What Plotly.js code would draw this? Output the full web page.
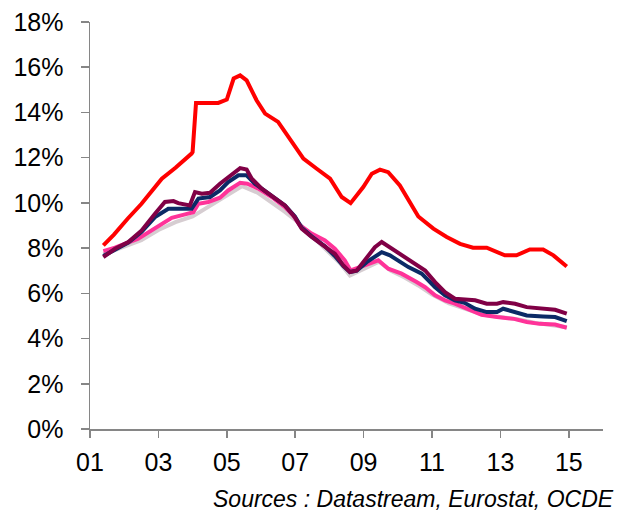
<!DOCTYPE html>
<html>
<head>
<meta charset="utf-8">
<script src="https://cdn.plot.ly/plotly-3.0.1.min.js"></script>
<style>
  html, body { margin: 0; padding: 0; background: #ffffff; }
  #chart { width: 632px; height: 512px; }
</style>
</head>
<body>
<div id="chart"></div>
<script>
// Tick labels
const xTickVals = [2001, 2003, 2005, 2007, 2009, 2011, 2013, 2015];
const xTickText = ["01", "03", "05", "07", "09", "11", "13", "15"];
const yTickVals = [0, 2, 4, 6, 8, 10, 12, 14, 16, 18];
const yTickText = ["0%", "2%", "4%", "6%", "8%", "10%", "12%", "14%", "16%", "18%"];

// Red series (decimal years, %)
const redX = [2001.39, 2001.7, 2002.1, 2002.5, 2003.1, 2003.5, 2003.97, 2004.0, 2004.1, 2004.75, 2005.0, 2005.09, 2005.2, 2005.39, 2005.58, 2005.87, 2006.12, 2006.5, 2006.85, 2007.24, 2007.63, 2008.02, 2008.36, 2008.62, 2008.99, 2009.24, 2009.48, 2009.72, 2010.06, 2010.36, 2010.6, 2011.04, 2011.43, 2011.82, 2012.2, 2012.6, 2012.89, 2013.13, 2013.47, 2013.86, 2014.25, 2014.55, 2014.94];
const redY = [8.12, 8.6, 9.3, 9.95, 11.07, 11.55, 12.18, 12.25, 14.42, 14.42, 14.57, 14.98, 15.5, 15.64, 15.42, 14.54, 13.95, 13.58, 12.84, 11.96, 11.51, 11.07, 10.26, 9.99, 10.7, 11.29, 11.47, 11.36, 10.77, 10.04, 9.4, 8.86, 8.49, 8.19, 8.02, 8.02, 7.82, 7.68, 7.68, 7.94, 7.94, 7.68, 7.19];

// Maroon series
const maroonX = [2001.39, 2001.73, 2002.12, 2002.51, 2002.9, 2003.19, 2003.44, 2003.58, 2003.92, 2004.07, 2004.27, 2004.51, 2004.8, 2005.04, 2005.39, 2005.58, 2005.73, 2006.02, 2006.31, 2006.7, 2006.99, 2007.19, 2007.48, 2007.87, 2008.16, 2008.41, 2008.6, 2008.8, 2009.09, 2009.33, 2009.53, 2009.77, 2010.11, 2010.5, 2010.8, 2011.09, 2011.38, 2011.67, 2011.95, 2012.26, 2012.6, 2012.9, 2013.08, 2013.43, 2013.77, 2014.25, 2014.6, 2014.94];
const maroonY = [7.6, 7.97, 8.27, 8.78, 9.52, 10.04, 10.08, 9.99, 9.89, 10.48, 10.41, 10.45, 10.85, 11.14, 11.54, 11.48, 11.07, 10.63, 10.33, 9.89, 9.37, 8.86, 8.49, 8.04, 7.75, 7.23, 6.94, 7.01, 7.6, 8.04, 8.27, 8.04, 7.68, 7.31, 7.01, 6.5, 6.05, 5.76, 5.72, 5.69, 5.54, 5.54, 5.61, 5.54, 5.39, 5.32, 5.27, 5.1];

// Navy series
const navyX = [2001.39, 2001.73, 2002.12, 2002.51, 2002.9, 2003.29, 2003.97, 2004.17, 2004.51, 2004.8, 2005.04, 2005.34, 2005.58, 2005.82, 2006.02, 2006.31, 2006.7, 2006.99, 2007.19, 2007.48, 2007.87, 2008.16, 2008.41, 2008.6, 2008.8, 2009.09, 2009.53, 2009.77, 2010.31, 2010.7, 2011.09, 2011.38, 2011.67, 2011.95, 2012.26, 2012.6, 2012.9, 2013.08, 2013.43, 2013.77, 2014.25, 2014.6, 2014.94];
const navyY = [7.65, 7.95, 8.25, 8.72, 9.37, 9.74, 9.74, 10.19, 10.26, 10.55, 10.92, 11.22, 11.22, 10.85, 10.63, 10.33, 9.89, 9.4, 8.9, 8.52, 8.08, 7.65, 7.2, 6.94, 7.0, 7.38, 7.82, 7.68, 7.16, 6.87, 6.27, 5.91, 5.69, 5.58, 5.32, 5.17, 5.17, 5.32, 5.17, 5.02, 4.98, 4.95, 4.77];

// Pink series
const pinkX = [2001.39, 2001.73, 2002.41, 2003.0, 2003.39, 2003.78, 2004.02, 2004.17, 2004.46, 2004.8, 2005.04, 2005.39, 2005.6, 2005.92, 2006.31, 2006.7, 2006.94, 2007.14, 2007.48, 2007.87, 2008.16, 2008.45, 2008.62, 2008.89, 2009.14, 2009.43, 2009.72, 2010.11, 2010.55, 2010.8, 2011.09, 2011.38, 2011.67, 2012.0, 2012.45, 2012.9, 2013.4, 2013.77, 2014.15, 2014.6, 2014.94];
const pinkY = [7.87, 8.02, 8.42, 9.0, 9.34, 9.49, 9.59, 9.96, 10.04, 10.23, 10.55, 10.89, 10.85, 10.63, 10.26, 9.81, 9.45, 9.0, 8.64, 8.34, 7.97, 7.46, 7.01, 7.16, 7.31, 7.46, 7.09, 6.87, 6.5, 6.27, 5.91, 5.69, 5.54, 5.32, 5.05, 4.95, 4.87, 4.73, 4.65, 4.62, 4.48];

// Light grey series
const greyX = [2001.39, 2002.0, 2002.5, 2003.0, 2003.5, 2004.0, 2004.5, 2005.0, 2005.45, 2005.9, 2006.3, 2006.7, 2007.0, 2007.5, 2008.0, 2008.3, 2008.6, 2009.0, 2009.45, 2009.8, 2010.2, 2010.6, 2011.0, 2011.5, 2012.0, 2012.5, 2013.0, 2013.5, 2014.0, 2014.5, 2014.94];
const greyY = [7.72, 8.05, 8.35, 8.8, 9.15, 9.4, 9.85, 10.3, 10.74, 10.45, 10.05, 9.6, 9.25, 8.5, 7.8, 7.35, 6.79, 7.1, 7.4, 7.0, 6.7, 6.35, 5.95, 5.55, 5.3, 5.05, 4.95, 4.85, 4.7, 4.6, 4.5];

const sourceText = "Sources : Datastream, Eurostat, OCDE";

function line(x, y, color) {
  return { x: x, y: y, type: "scatter", mode: "lines",
           line: { color: color, width: 4 }, hoverinfo: "skip", showlegend: false };
}

const traces = [
  line(greyX, greyY, "#d6cdd1"),
  line(pinkX, pinkY, "#ff3399"),
  line(navyX, navyY, "#0b2a66"),
  line(maroonX, maroonY, "#800046"),
  line(redX, redY, "#ff0000")
];

const axisColor = "#868686";
const tickFont = { family: "Liberation Sans, Arial, sans-serif", size: 25, color: "#000000" };

const layout = {
  width: 632, height: 512,
  margin: { l: 90, r: 29, t: 22, b: 83, pad: 0 },
  paper_bgcolor: "#ffffff", plot_bgcolor: "#ffffff",
  showlegend: false,
  xaxis: {
    range: [2001, 2016], tickmode: "array", tickvals: xTickVals, ticktext: xTickText,
    showgrid: false, zeroline: false, showline: true, linecolor: axisColor, linewidth: 1.5,
    ticks: "outside", ticklen: 7, tickwidth: 1.5, tickcolor: axisColor,
    tickfont: tickFont, ticklabelstandoff: 3, fixedrange: true
  },
  yaxis: {
    range: [0, 18], tickmode: "array", tickvals: yTickVals, ticktext: yTickText,
    showgrid: false, zeroline: false, showline: true, linecolor: axisColor, linewidth: 1.5,
    ticks: "outside", ticklen: 8, tickwidth: 1.5, tickcolor: axisColor,
    tickfont: tickFont, ticklabelstandoff: 12, fixedrange: true
  },
  annotations: [{
    text: sourceText, xref: "paper", yref: "paper",
    x: 1.0253, y: -0.1718, xanchor: "right", yanchor: "middle", showarrow: false,
    font: { family: "Liberation Sans, Arial, sans-serif", size: 23, color: "#000000", style: "italic" }
  }]
};

Plotly.newPlot("chart", traces, layout, { displayModeBar: false, staticPlot: true });
</script>
</body>
</html>
